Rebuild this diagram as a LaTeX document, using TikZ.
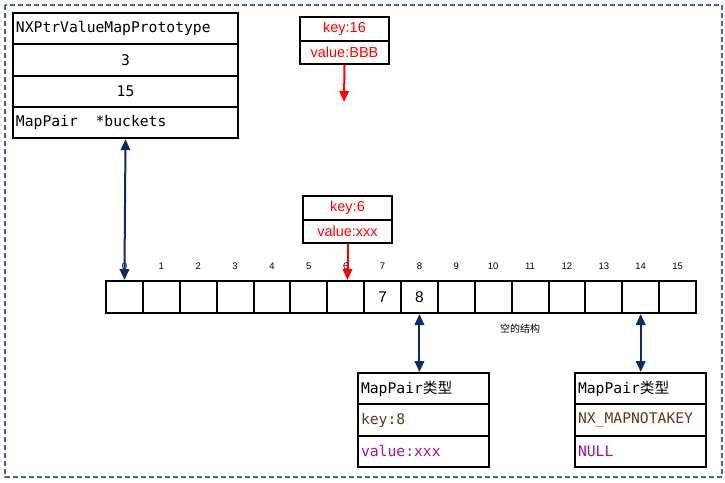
\documentclass[tikz,border=0pt]{standalone}
\usepackage{fontspec}
\setmainfont{Liberation Sans}
\newfontfamily\mono{DejaVu Sans Mono}
\newfontfamily\cjk{Noto Sans CJK SC}
\usetikzlibrary{arrows.meta,calc}

\definecolor{navy}{HTML}{0B2B68}
\definecolor{frameblue}{HTML}{45649A}
\definecolor{keybrown}{HTML}{643820}
\definecolor{valpink}{HTML}{A0168F}

\tikzset{
  row/.style={draw=black, line width=2pt, anchor=north west, inner xsep=3pt, inner ysep=0pt,
              minimum height=#1, font=\mono\fontsize{14.7}{16}\selectfont},
  row/.default=31.3pt,
  leftrow/.style={row, text width=#1, align=left},
  midrow/.style={row, minimum width=#1, align=center},
  redrow/.style={draw=black, line width=2pt, anchor=north west, minimum width=89pt,
                 minimum height=23.5pt, inner sep=0pt, text=red,
                 font=\fontsize{14.5}{16}\selectfont},
  cell/.style={draw=black, line width=2pt, anchor=north west, minimum width=36.875pt,
               minimum height=32pt, inner sep=0pt, font=\fontsize{15.5}{16}\selectfont},
  idx/.style={inner sep=0pt, font=\fontsize{9.5}{10}\selectfont},
  link/.style={navy, line width=2pt, {Triangle[length=11pt,width=9.5pt]}-{Triangle[length=11pt,width=9.5pt]}},
  redlink/.style={red, line width=2pt, -{Triangle[length=11pt,width=9.5pt]}},
}

\begin{document}
\begin{tikzpicture}[x=1pt, y=-1pt]
\useasboundingbox (0,0) rectangle (725,482);

% outer dashed frame
\draw[frameblue, line width=1.2pt, dash pattern=on 5pt off 3pt] (5,5) rectangle (722,477);

% the map prototype structure
\node[leftrow=219pt] (ph) at (12,12) {NXPtrValueMapPrototype};
\node[midrow=225pt] (pa) at (12,43.3) {3};
\node[midrow=225pt] (pb) at (12,74.6) {15};
\node[leftrow=219pt] (pc) at (12,105.9) {MapPair\hphantom{xx}*buckets};

% pair to be inserted with key 16
\node[redrow] (k16k) at (299,16) {key:16};
\node[redrow] (k16v) at (299,39.5) {value:BBB};
\coordinate (k16end) at (344,102);

% pair with key 6
\node[redrow] (k6k) at (302,195) {key:6};
\node[redrow] (k6v) at (302,218.5) {value:xxx};

% bucket array
\foreach \i in {0,...,15} {
  \node[cell] (c\i) at ({105+36.875*\i},280) {};
  \node[idx] (n\i) at ($(c\i.north)+(0,-14)$) {\i};
}
\node[font=\fontsize{15.5}{16}\selectfont] (v7) at (c7) {7};
\node[font=\fontsize{15.5}{16}\selectfont] (v8) at (c8) {8};
\node[font=\cjk\fontsize{10}{12}\selectfont] (empty) at (520,329) {空的结构};

% bucket holding key 8
\node[leftrow=125pt] (ah) at (357,372) {MapPair{\cjk 类型}};
\node[leftrow=125pt, text=keybrown] (ak) at (357,403.3) {key:8};
\node[leftrow=125pt, text=valpink] (av) at (357,434.6) {value:xxx};

% empty bucket
\node[leftrow=125pt] (bh) at (574,372) {MapPair{\cjk 类型}};
\node[leftrow=125pt, text=keybrown] (bk) at (574,403.3) {NX\_MAPNOTAKEY};
\node[leftrow=125pt, text=valpink] (bv) at (574,434.6) {NULL};

% connectors
\draw[link] (pc.south) -- (c0.north);
\draw[link] (c8.south) -- (ah.north -| c8.south);
\draw[link] (c14.south) -- (bh.north -| c14.south);
\draw[redlink] (k16v.south) -- (k16end);
\draw[redlink] (k6v.south) -- (c6.north -| k6v.south);
\end{tikzpicture}
\end{document}
